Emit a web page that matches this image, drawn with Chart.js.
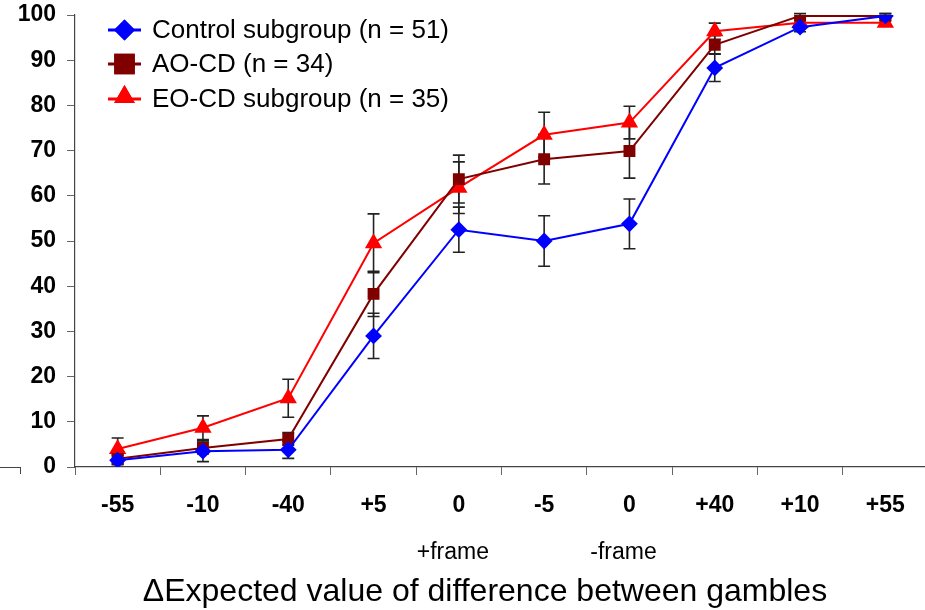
<!DOCTYPE html>
<html>
<head>
<meta charset="utf-8">
<script src="https://cdn.jsdelivr.net/npm/chart.js@4/dist/chart.umd.min.js"></script>
<style>
  html, body { margin: 0; padding: 0; background: #fff; overflow: hidden; }
  #wrap { width: 938px; height: 610px; }
</style>
</head>
<body>
<div id="wrap"><canvas id="chart"></canvas></div>
<script>
// Chart data
const categories = ['-55', '-10', '-40', '+5', '0', '-5', '0', '+40', '+10', '+55'];
const frameLabels = ['', '', '', '', '+frame', '', '-frame', '', '', ''];
const yTicks = [0, 10, 20, 30, 40, 50, 60, 70, 80, 90, 100];

const controlValues = [1.5, 3.5, 3.8, 29, 52.5, 50, 53.8, 88.3, 97.3, 99.8];
const controlErrors = [1, 2.3, 1.9, 5, 5, 5.6, 5.5, 3, 1, 0.5];
const aoValues = [1.8, 4.2, 6.2, 38.3, 63.7, 68.1, 69.9, 93.4, 99.8, 99.8];
const aoErrors = [1, 1.3, 1.4, 5, 5.3, 5.5, 6, 2, 0.5, 0.5];
const eoValues = [4.0, 8.7, 15.2, 49.5, 61.8, 73.5, 76.2, 96.4, 98.3, 98.3];
const eoErrors = [2.4, 2.6, 4.2, 6.5, 5.7, 5, 3.6, 1.8, 0.5, 0.5];

const xTitle = '\u0394Expected value of difference between gambles';

// error bars, drawn under the markers
const errorBars = {
    id: 'errorBars',
    beforeDatasetsDraw(chart) {
        const ctx = chart.ctx;
        const y = chart.scales.y;
        ctx.save();
        ctx.strokeStyle = '#222';
        ctx.lineWidth = 1.6;
        chart.data.datasets.forEach((ds, i) => {
            const meta = chart.getDatasetMeta(i);
            meta.data.forEach((pt, j) => {
                const e = ds.errors[j];
                const top = y.getPixelForValue(ds.data[j] + e);
                const bot = y.getPixelForValue(ds.data[j] - e);
                ctx.beginPath();
                ctx.moveTo(pt.x, top); ctx.lineTo(pt.x, bot);
                ctx.moveTo(pt.x - 6, top); ctx.lineTo(pt.x + 6, top);
                ctx.moveTo(pt.x - 6, bot); ctx.lineTo(pt.x + 6, bot);
                ctx.stroke();
            });
        });
        ctx.restore();
    }
};

// legend inside the plot, frame labels and axis title
const extras = {
    id: 'extras',
    afterDraw(chart) {
        const ctx = chart.ctx;
        const x = chart.scales.x;
        const bottom = chart.chartArea.bottom;
        ctx.save();

        // stray axis stub at the far left
        ctx.strokeStyle = '#444';
        ctx.lineWidth = 1;
        ctx.beginPath();
        ctx.moveTo(0, bottom + 0.5); ctx.lineTo(20, bottom + 0.5);
        ctx.moveTo(20.5, bottom); ctx.lineTo(20.5, bottom + 7);
        ctx.stroke();

        // legend
        const rows = [30, 64, 99];
        const sizes = [10.5, 14.5, 12];
        chart.data.datasets.forEach((ds, i) => {
            const yy = rows[i];
            ctx.strokeStyle = ds.borderColor;
            ctx.lineWidth = 3;
            ctx.beginPath();
            ctx.moveTo(108, yy); ctx.lineTo(141, yy);
            ctx.stroke();
            ctx.fillStyle = ds.borderColor;
            Chart.helpers.drawPoint(ctx, {
                pointStyle: ds.pointStyle, radius: sizes[i], borderWidth: 0
            }, 124.5, i === 2 ? yy - 2 : yy);
            ctx.fill();
            ctx.fillStyle = '#000';
            ctx.font = '26px "Liberation Sans", Arial, sans-serif';
            ctx.textAlign = 'left';
            ctx.textBaseline = 'middle';
            ctx.fillText(ds.label, 152, yy + 1);
        });

        // +frame / -frame
        ctx.fillStyle = '#000';
        ctx.font = '23px "Liberation Sans", Arial, sans-serif';
        ctx.textAlign = 'center';
        ctx.textBaseline = 'middle';
        frameLabels.forEach((lab, i) => {
            if (lab) ctx.fillText(lab, x.getPixelForValue(i) - 6, 553);
        });

        // axis title
        ctx.font = '32px "Liberation Sans", Arial, sans-serif';
        ctx.fillText(xTitle, 485, 592);
        ctx.restore();
    }
};

const tickFont = { family: '"Liberation Sans", Arial, sans-serif', size: 23, weight: 'bold' };

new Chart(document.getElementById('chart'), {
    type: 'line',
    data: {
        labels: categories,
        datasets: [
            {
                label: 'Control subgroup (n = 51)',
                data: controlValues,
                errors: controlErrors,
                borderColor: '#0000FF',
                backgroundColor: '#0000FF',
                pointStyle: 'rectRot',
                pointRadius: 7,
                borderWidth: 2,
                tension: 0
            },
            {
                label: 'AO-CD (n = 34)',
                data: aoValues,
                errors: aoErrors,
                borderColor: '#800000',
                backgroundColor: '#800000',
                pointStyle: 'rect',
                pointRadius: 7,
                borderWidth: 2,
                tension: 0
            },
            {
                label: 'EO-CD subgroup (n = 35)',
                data: eoValues,
                errors: eoErrors,
                borderColor: '#FF0000',
                backgroundColor: '#FF0000',
                pointStyle: 'triangle',
                pointRadius: 8,
                borderWidth: 2,
                tension: 0
            }
        ]
    },
    options: {
        responsive: true,
        maintainAspectRatio: false,
        animation: false,
        layout: { padding: { top: 15, right: 2, left: 0, bottom: 0 } },
        plugins: {
            legend: { display: false },
            tooltip: { enabled: false }
        },
        elements: { point: { borderWidth: 0 } },
        scales: {
            x: {
                offset: true,
                grid: {
                    offset: true,
                    drawOnChartArea: false,
                    tickLength: 8,
                    color: '#666'
                },
                border: { color: '#444', width: 1.2 },
                ticks: { color: '#000', font: tickFont, padding: 17, maxRotation: 0 },
                afterFit(scale) { scale.height = 143; }
            },
            y: {
                min: 0,
                max: 100,
                afterBuildTicks(scale) { scale.ticks = yTicks.map(v => ({ value: v })); },
                grid: {
                    drawOnChartArea: false,
                    tickLength: 8,
                    color: '#666'
                },
                border: { color: '#444', width: 1.2 },
                ticks: { color: '#000', font: tickFont, padding: 11 },
                afterFit(scale) {
                    scale.width = 75;
                    scale.paddingTop = 0;
                    scale.paddingBottom = 0;
                }
            }
        }
    },
    plugins: [errorBars, extras]
});
</script>
</body>
</html>
